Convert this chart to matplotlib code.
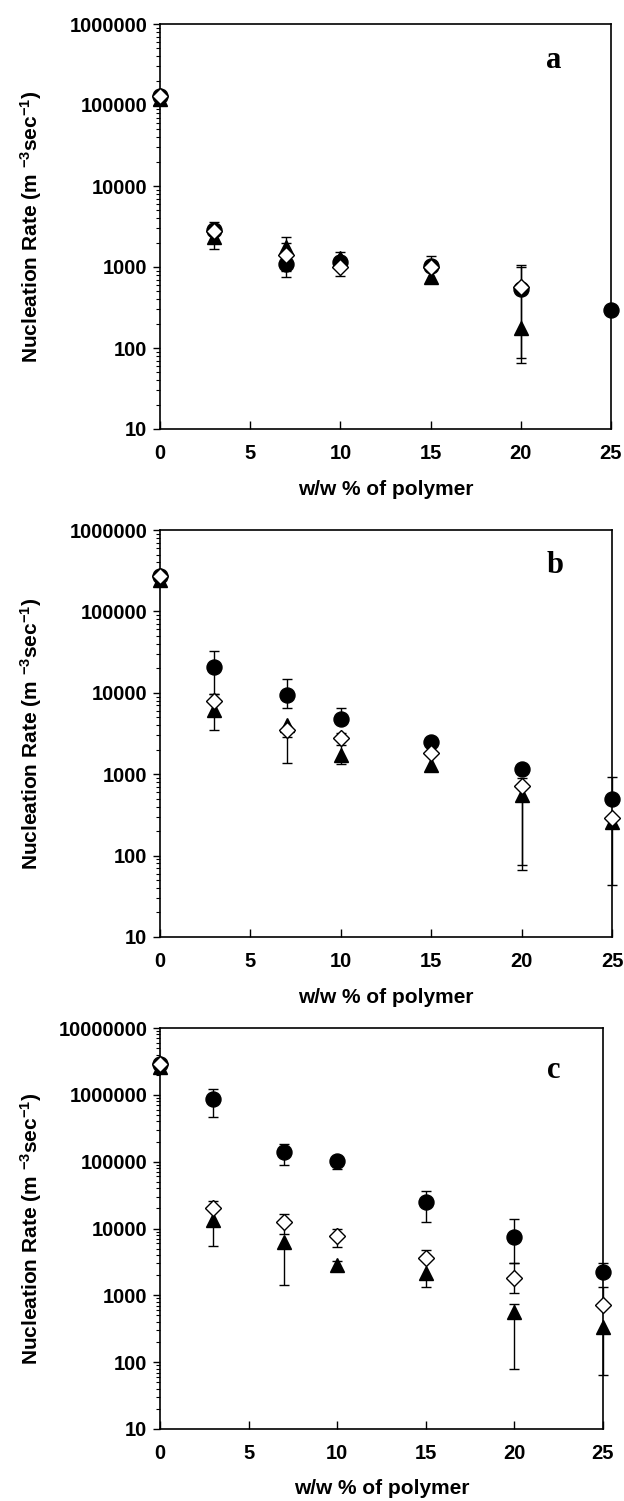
import numpy as np
import matplotlib
matplotlib.use("Agg")
import matplotlib.pyplot as plt
from matplotlib.ticker import LogLocator, FuncFormatter, NullFormatter, FixedLocator

plt.rcParams["font.family"] = ["Liberation Sans", "DejaVu Sans"]
plt.rcParams["font.weight"] = "bold"
plt.rcParams["mathtext.fontset"] = "custom"
plt.rcParams["mathtext.rm"] = "Liberation Sans:bold"
plt.rcParams["mathtext.default"] = "rm"

nan = np.nan

# polymer content (w/w %)
polymer = [0, 3, 7, 10, 15, 20, 25]
x_ticks = [0, 5, 10, 15, 20, 25]

# ---- panel a ----
circle_a = [130000, 2870, 1090, 1160, 1030, 530, 295]
circle_a_hi = [nan, 3600, nan, nan, 1370, 1050, nan]
circle_a_lo = [nan, nan, 880, nan, nan, 76, nan]
diamond_a = [130000, 2800, 1400, 1010, 1000, 570, nan]
diamond_a_hi = [nan, nan, 2000, nan, nan, nan, nan]
diamond_a_lo = [nan, nan, nan, 775, nan, nan, nan]
triangle_a = [120000, 2370, 1750, 1280, 760, 175, nan]
triangle_a_hi = [nan, nan, 2370, 1550, nan, 1000, nan]
triangle_a_lo = [nan, 1680, 760, nan, nan, 65, nan]

# ---- panel b ----
circle_b = [270000, 20500, 9360, 4830, 2470, 1160, 493]
circle_b_hi = [nan, 32500, 14700, 6420, nan, nan, 927]
circle_b_lo = [nan, 9630, 6420, nan, nan, nan, nan]
diamond_b = [270000, 7970, 3540, 2750, 1800, 712, 293]
diamond_b_hi = [nan, 9630, nan, 3250, nan, 910, nan]
diamond_b_lo = [nan, nan, 2880, nan, nan, 76, nan]
triangle_b = [240000, 6120, 4000, 1710, 1290, 552, 260]
triangle_b_hi = [nan, nan, nan, 2270, nan, nan, nan]
triangle_b_lo = [nan, 3540, 1380, 1330, nan, 66, 43]

# ---- panel c ----
circle_c = [2900000, 873000, 139000, 103000, 25000, 7470, 2260]
circle_c_hi = [nan, 1220000, 185000, 119000, 36100, 13900, 3080]
circle_c_lo = [nan, 474000, 90600, 77100, 12400, 3080, nan]
diamond_c = [2900000, 20500, 12400, 7730, 3580, 1790, 714]
diamond_c_hi = [nan, 25900, 16300, 9950, 4820, 3080, 1350]
diamond_c_lo = [nan, nan, 8190, 5350, nan, 1090, nan]
triangle_c = [2600000, 13400, 6210, 2810, 2180, 568, 338]
triangle_c_hi = [nan, nan, nan, 3300, nan, 740, nan]
triangle_c_lo = [nan, 5470, 1440, nan, 1350, 78.5, 64]

panels = [
    dict(letter="a", ylim=(10, 1e6),
         series=[(circle_a, circle_a_lo, circle_a_hi),
                 (triangle_a, triangle_a_lo, triangle_a_hi),
                 (diamond_a, diamond_a_lo, diamond_a_hi)],
         rect_px=(160, 24, 611, 429), letter_px=(554, 60), xlabelpad=12),
    dict(letter="b", ylim=(10, 1e6),
         series=[(circle_b, circle_b_lo, circle_b_hi),
                 (triangle_b, triangle_b_lo, triangle_b_hi),
                 (diamond_b, diamond_b_lo, diamond_b_hi)],
         rect_px=(160, 530, 612, 937), letter_px=(555, 565), xlabelpad=12),
    dict(letter="c", ylim=(10, 1e7),
         series=[(circle_c, circle_c_lo, circle_c_hi),
                 (triangle_c, triangle_c_lo, triangle_c_hi),
                 (diamond_c, diamond_c_lo, diamond_c_hi)],
         rect_px=(160, 1028, 603, 1429), letter_px=(554, 1070), xlabelpad=11),
]

styles = [
    dict(marker="o", ms=10.8, mfc="black", mec="black", mew=1.0),
    dict(marker="^", ms=10.5, mfc="black", mec="black", mew=1.0),
    dict(marker="D", ms=8.5, mfc="white", mec="black", mew=1.0),
]

W, H = 624, 1501
fig = plt.figure(figsize=(W / 100, H / 100), dpi=100)


def draw_errors(ax, x, y, lo, hi):
    x = np.asarray(x, float)
    y = np.asarray(y, float)
    lo = np.asarray(lo, float)
    hi = np.asarray(hi, float)
    has = ~(np.isnan(lo) & np.isnan(hi)) & ~np.isnan(y)
    bottom = np.where(np.isnan(lo), y, lo)
    top = np.where(np.isnan(hi), y, hi)
    ax.vlines(x[has], bottom[has], top[has], colors="black", lw=1.0,
              zorder=2, clip_on=False)
    for bound in (lo, hi):
        m = ~np.isnan(bound)
        ax.plot(x[m], bound[m], ls="none", marker="_", ms=7.5, mew=1.0,
                color="black", zorder=2, clip_on=False)


def int_fmt(v, pos):
    return f"{int(round(v))}"


for p in panels:
    l, t, r, b = p["rect_px"]
    ax = fig.add_axes([l / W, 1 - b / H, (r - l) / W, (b - t) / H])
    ax.set_yscale("log")
    ax.set_xlim(0, 25)
    ax.set_ylim(*p["ylim"])

    for (vals, lo, hi), st in zip(p["series"], styles):
        draw_errors(ax, polymer, vals, lo, hi)
    for z, ((vals, lo, hi), st) in enumerate(zip(p["series"], styles)):
        ax.plot(polymer, vals, ls="none", zorder=3 + z, clip_on=False, **st)

    ax.xaxis.set_major_locator(FixedLocator(x_ticks))
    ax.yaxis.set_major_locator(LogLocator(base=10, numticks=20))
    ax.yaxis.set_minor_locator(LogLocator(base=10, subs=np.arange(2, 10), numticks=20))
    ax.yaxis.set_major_formatter(FuncFormatter(int_fmt))
    ax.yaxis.set_minor_formatter(NullFormatter())

    ax.tick_params(axis="x", which="major", direction="in", length=6,
                   width=1.0, pad=11, labelsize=14.5)
    ax.tick_params(axis="y", which="major", direction="out", length=5,
                   width=1.0, pad=4, labelsize=14.5)
    ax.tick_params(axis="y", which="minor", direction="out", length=3, width=0.8)
    for lab in ax.get_xticklabels() + ax.get_yticklabels():
        lab.set_fontweight("bold")
    for sp in ax.spines.values():
        sp.set_linewidth(1.2)

    ax.set_xlabel("w/w % of polymer", fontsize=15, fontweight="bold",
                  labelpad=p["xlabelpad"])
    ax.set_ylabel(r"Nucleation Rate (m $^{-3}$sec$^{-1}$)", fontsize=15,
                  fontweight="bold")
    ax.yaxis.label.set_va("center")
    ax.yaxis.set_label_coords((31 - l) / (r - l), 0.5)

    lx, ly = p["letter_px"]
    fig.text(lx / W, 1 - ly / H, p["letter"], ha="center", va="center",
             fontsize=22, fontweight="bold",
             family=["Liberation Serif", "DejaVu Serif"])

fig.savefig("out.png", dpi=100)
